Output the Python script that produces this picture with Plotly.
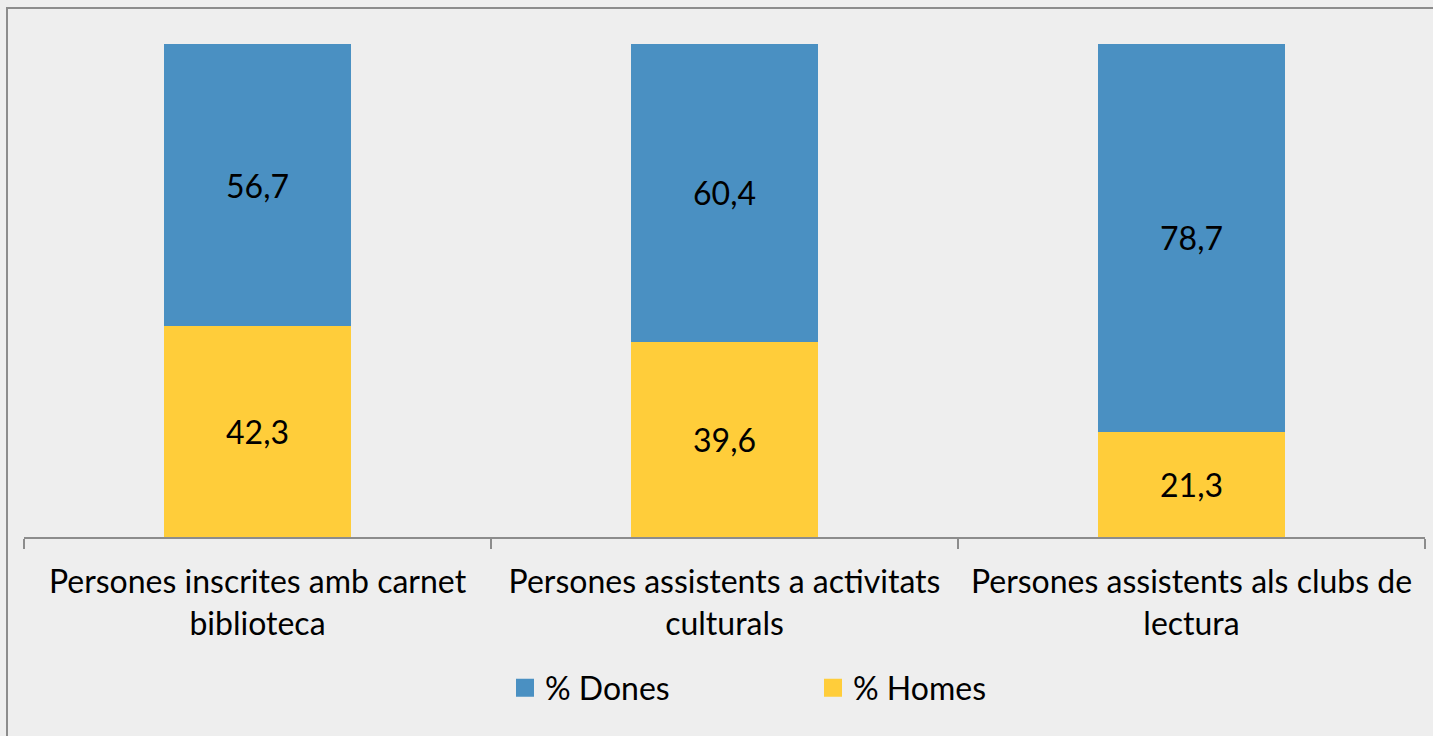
import plotly.graph_objects as go

categories = ["Persones inscrites amb carnet<br>biblioteca",
              "Persones assistents a activitats<br>culturals",
              "Persones assistents als clubs de<br>lectura"]
dones = [56.7, 60.4, 78.7]
homes = [42.3, 39.6, 21.3]

BLUE = "#4A90C2"
YELLOW = "#FFCD3A"
FONT = "Lato"
FS = 32

def fmt(vals):
    return [f"{v:.1f}".replace(".", ",") for v in vals]

W, H = 1433, 736
L, R, T, B = 24, 8, 44, 199
pw, ph = W - L - R, H - T - B

fig = go.Figure()
fig.add_trace(go.Bar(x=categories, y=homes, name="% Homes", marker_color=YELLOW,
                     text=fmt(homes), textposition="inside", insidetextanchor="middle",
                     textfont=dict(size=FS, color="black", family=FONT),
                     width=0.4, showlegend=False, marker_line_width=0))
fig.add_trace(go.Bar(x=categories, y=dones, name="% Dones", marker_color=BLUE,
                     text=fmt(dones), textposition="inside", insidetextanchor="middle",
                     textfont=dict(size=FS, color="black", family=FONT),
                     width=0.4, showlegend=False, marker_line_width=0))
# legend entries
for name, col in [("% Dones", BLUE), ("% Homes", YELLOW)]:
    fig.add_trace(go.Scatter(x=[None], y=[None], mode="markers", name=name,
                             marker=dict(symbol="square", size=16, color=col,
                                         line=dict(color=col, width=2))))

fig.update_layout(
    width=W, height=H,
    barmode="stack", barnorm="percent",
    paper_bgcolor="#EEEEEE", plot_bgcolor="#EEEEEE",
    margin=dict(l=L, r=R, t=T, b=B),
    font=dict(family=FONT, size=FS, color="black"),
    uniformtext=dict(mode=False),
    legend=dict(orientation="h", x=(505 - L) / pw, xanchor="left",
                y=(T + ph - 688) / ph, yanchor="middle", traceorder="normal",
                bgcolor="rgba(0,0,0,0)", font=dict(size=FS, family=FONT),
                entrywidth=263, entrywidthmode="pixels", itemsizing="trace"),
    xaxis=dict(range=[-0.5, 2.5], showline=True, linecolor="#8C8C8C", linewidth=2,
               ticks="outside", tickson="boundaries", ticklen=10, tickcolor="#8C8C8C",
               tickwidth=2, showgrid=False, tickfont=dict(size=FS, family=FONT),
               ticklabelstandoff=16),
    yaxis=dict(range=[0, 100], visible=False, showgrid=False),
)
# outer chart border (partially cropped)
fig.add_shape(type="rect", xref="paper", yref="paper",
              x0=(7 - L) / pw, x1=(W + 20 - L) / pw,
              y0=(T + ph - (H + 20)) / ph, y1=(T + ph - 8) / ph,
              line=dict(color="#8C8C8C", width=2), fillcolor="rgba(0,0,0,0)", layer="below")

fig.write_html("out.html", config={"displayModeBar": False},
               post_script="document.body.style.margin='0';document.body.style.overflow='hidden';")
